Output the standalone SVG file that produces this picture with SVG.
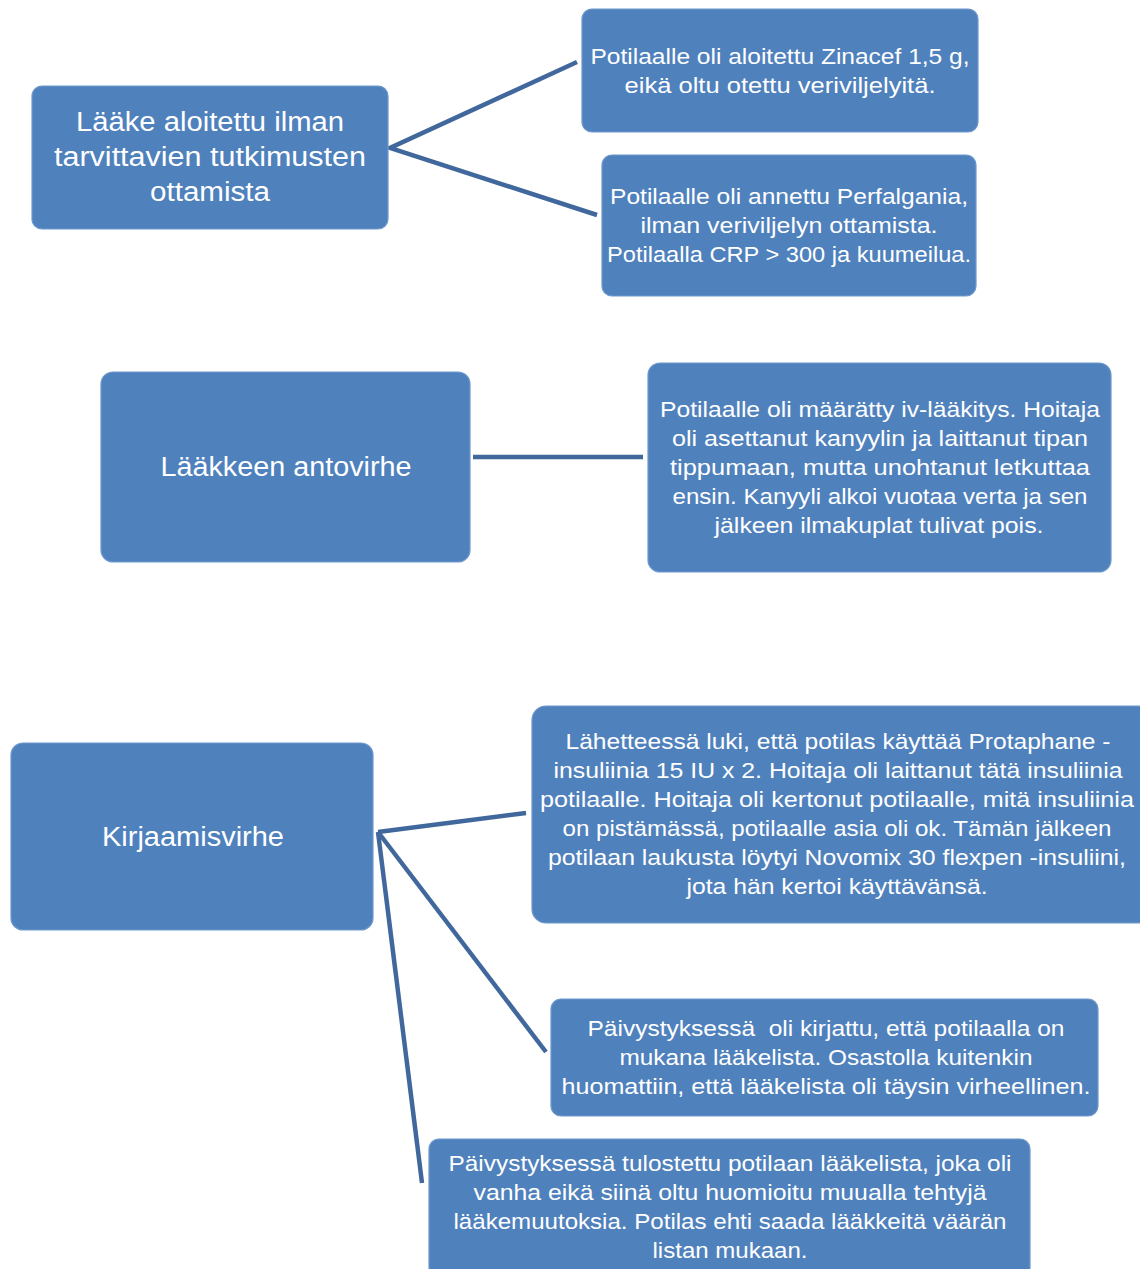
<svg xmlns="http://www.w3.org/2000/svg" width="1140" height="1269" viewBox="0 0 1140 1269">
<style>
.box{fill:#4F81BD;stroke:#6F98CB;stroke-width:1.2}
.t{fill:#FFFFFF;font-family:"Liberation Sans","DejaVu Sans",sans-serif;text-anchor:middle}
.big{font-size:27px}
.sm{font-size:22px}
.con{stroke:#41689C;stroke-width:4.5;fill:none;stroke-linecap:butt}
</style>
<rect width="1140" height="1269" fill="#FFFFFF"/>
<g id="connectors">
<polyline class="con" points="577,62 390,148 597,215"/>
<line class="con" x1="473" y1="457" x2="643" y2="457"/>
<line class="con" x1="378" y1="832" x2="526" y2="813"/>
<line class="con" x1="378" y1="832" x2="546" y2="1052"/>
<line class="con" x1="378" y1="832" x2="422" y2="1183"/>
</g>
<g id="node-laake-aloitettu">
<rect class="box" x="32" y="86" width="356" height="143" rx="10"/>
<text class="t big"><tspan x="210" y="131" textLength="268" lengthAdjust="spacingAndGlyphs">Lääke aloitettu ilman</tspan><tspan x="210" y="166" textLength="312" lengthAdjust="spacingAndGlyphs">tarvittavien tutkimusten</tspan><tspan x="210" y="201" textLength="120" lengthAdjust="spacingAndGlyphs">ottamista</tspan></text>
</g>
<g id="node-zinacef">
<rect class="box" x="582" y="9" width="396" height="123" rx="10"/>
<text class="t sm"><tspan x="780" y="64" textLength="379" lengthAdjust="spacingAndGlyphs">Potilaalle oli aloitettu Zinacef 1,5 g,</tspan><tspan x="780" y="93" textLength="311" lengthAdjust="spacingAndGlyphs">eikä oltu otettu veriviljelyitä.</tspan></text>
</g>
<g id="node-perfalgan">
<rect class="box" x="602" y="155" width="374" height="141" rx="10"/>
<text class="t sm"><tspan x="789" y="204" textLength="358" lengthAdjust="spacingAndGlyphs">Potilaalle oli annettu Perfalgania,</tspan><tspan x="789" y="233" textLength="297" lengthAdjust="spacingAndGlyphs">ilman veriviljelyn ottamista.</tspan><tspan x="789" y="262" textLength="364" lengthAdjust="spacingAndGlyphs">Potilaalla CRP &gt; 300 ja kuumeilua.</tspan></text>
</g>
<g id="node-antovirhe">
<rect class="box" x="101" y="372" width="369" height="190" rx="12"/>
<text class="t big"><tspan x="286" y="476" textLength="251" lengthAdjust="spacingAndGlyphs">Lääkkeen antovirhe</tspan></text>
</g>
<g id="node-iv-laakitys">
<rect class="box" x="648" y="363" width="463" height="209" rx="12"/>
<text class="t sm"><tspan x="880" y="417" textLength="440" lengthAdjust="spacingAndGlyphs">Potilaalle oli määrätty iv-lääkitys. Hoitaja</tspan><tspan x="880" y="446" textLength="416" lengthAdjust="spacingAndGlyphs">oli asettanut kanyylin ja laittanut tipan</tspan><tspan x="880" y="475" textLength="420" lengthAdjust="spacingAndGlyphs">tippumaan, mutta unohtanut letkuttaa</tspan><tspan x="880" y="504" textLength="415" lengthAdjust="spacingAndGlyphs">ensin. Kanyyli alkoi vuotaa verta ja sen</tspan><tspan x="879" y="533" textLength="329" lengthAdjust="spacingAndGlyphs">jälkeen ilmakuplat tulivat pois.</tspan></text>
</g>
<g id="node-kirjaamisvirhe">
<rect class="box" x="11" y="743" width="362" height="187" rx="12"/>
<text class="t big"><tspan x="193" y="846" textLength="182" lengthAdjust="spacingAndGlyphs">Kirjaamisvirhe</tspan></text>
</g>
<g id="node-protaphane">
<rect class="box" x="532" y="706" width="620" height="217" rx="14"/>
<text class="t sm"><tspan x="838" y="749" textLength="545" lengthAdjust="spacingAndGlyphs">Lähetteessä luki, että potilas käyttää Protaphane -</tspan><tspan x="838" y="778" textLength="569" lengthAdjust="spacingAndGlyphs">insuliinia 15 IU x 2. Hoitaja oli laittanut tätä insuliinia</tspan><tspan x="837" y="807" textLength="594" lengthAdjust="spacingAndGlyphs">potilaalle. Hoitaja oli kertonut potilaalle, mitä insuliinia</tspan><tspan x="837" y="836" textLength="549" lengthAdjust="spacingAndGlyphs">on pistämässä, potilaalle asia oli ok. Tämän jälkeen</tspan><tspan x="837" y="865" textLength="578" lengthAdjust="spacingAndGlyphs">potilaan laukusta löytyi Novomix 30 flexpen -insuliini,</tspan><tspan x="837" y="894" textLength="301" lengthAdjust="spacingAndGlyphs">jota hän kertoi käyttävänsä.</tspan></text>
</g>
<g id="node-laakelista-virheellinen">
<rect class="box" x="551" y="999" width="547" height="117" rx="10"/>
<text class="t sm"><tspan x="826" y="1036" textLength="477" lengthAdjust="spacingAndGlyphs" xml:space="preserve">Päivystyksessä  oli kirjattu, että potilaalla on</tspan><tspan x="826" y="1065" textLength="413" lengthAdjust="spacingAndGlyphs">mukana lääkelista. Osastolla kuitenkin</tspan><tspan x="826" y="1094" textLength="529" lengthAdjust="spacingAndGlyphs">huomattiin, että lääkelista oli täysin virheellinen.</tspan></text>
</g>
<g id="node-vanha-laakelista">
<rect class="box" x="429" y="1139" width="601" height="150" rx="10"/>
<text class="t sm"><tspan x="730" y="1171" textLength="563" lengthAdjust="spacingAndGlyphs">Päivystyksessä tulostettu potilaan lääkelista, joka oli</tspan><tspan x="730" y="1200" textLength="513" lengthAdjust="spacingAndGlyphs">vanha eikä siinä oltu huomioitu muualla tehtyjä</tspan><tspan x="730" y="1229" textLength="553" lengthAdjust="spacingAndGlyphs">lääkemuutoksia. Potilas ehti saada lääkkeitä väärän</tspan><tspan x="730" y="1258" textLength="155" lengthAdjust="spacingAndGlyphs">listan mukaan.</tspan></text>
</g>
</svg>
